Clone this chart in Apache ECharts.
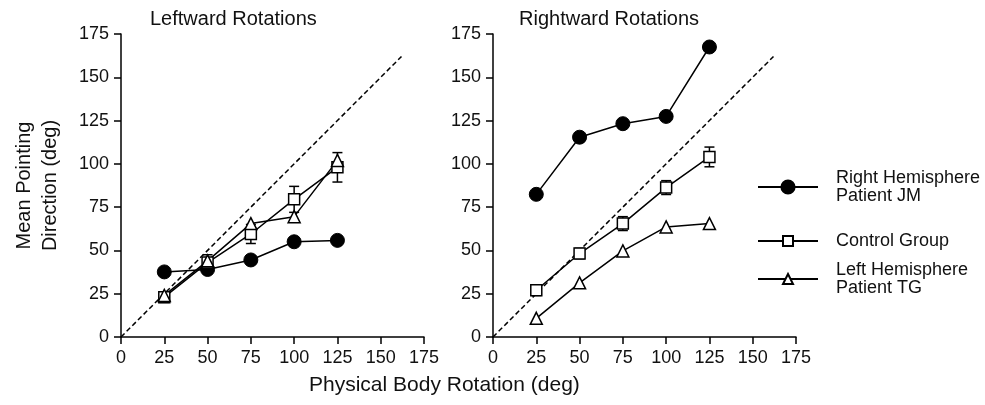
<!DOCTYPE html>
<html style="height: 100%">
<head>
    <meta charset="utf-8">
    <title>Leftward / Rightward Rotations</title>
    <script src="https://cdn.jsdelivr.net/npm/echarts@6/dist/echarts.min.js"></script>
</head>
<body style="height: 100%; margin: 0; background: #fff">
    <div id="main" style="width: 985px; height: 405px"></div>
    <script>
        // physical rotation (deg)
        var rotations = [25, 50, 75, 100, 125];

        // leftward rotations
        var leftJM = [37.6, 39, 44.5, 55, 55.8];
        var leftControl = [23, 43, 59.5, 79.5, 98];
        var leftControlErr = [3, 4.5, 5.5, 7.5, 8.5];
        var leftTG = [24, 44, 65.5, 69.5, 102];

        // rightward rotations
        var rightJM = [82.4, 115.4, 123.2, 127.4, 167.5];
        var rightControl = [27, 48.2, 65.5, 86.3, 104];
        var rightControlErr = [3, 3, 4, 4, 5.7];
        var rightTG = [10.8, 31.3, 49.7, 63.6, 65.5];

        // identity (dashed) line end points
        var identity = [0, 162];

        var FONT = 'Liberation Sans, Arial, sans-serif';

        function pairs(ys) {
            return rotations.map(function (x, i) { return [x, ys[i]]; });
        }
        function errData(ys, errs) {
            return rotations.map(function (x, i) { return [x, ys[i] - errs[i], ys[i] + errs[i]]; });
        }
        function renderErr(params, api) {
            var lo = api.coord([api.value(0), api.value(1)]);
            var hi = api.coord([api.value(0), api.value(2)]);
            var w = 5;
            var st = { stroke: '#000', lineWidth: 1.5 };
            return {
                type: 'group',
                children: [
                    { type: 'line', shape: { x1: lo[0], y1: lo[1], x2: hi[0], y2: hi[1] }, style: st },
                    { type: 'line', shape: { x1: lo[0] - w, y1: lo[1], x2: lo[0] + w, y2: lo[1] }, style: st },
                    { type: 'line', shape: { x1: hi[0] - w, y1: hi[1], x2: hi[0] + w, y2: hi[1] }, style: st }
                ]
            };
        }

        function axis(extra) {
            var a = {
                min: 0, max: 175, interval: 25,
                axisLine: { show: true, onZero: false, lineStyle: { color: '#000', width: 1.5 } },
                axisTick: { show: true, length: 7, lineStyle: { color: '#000', width: 1.5 } },
                axisLabel: { color: '#111', fontSize: 18, fontFamily: FONT, margin: 12 },
                splitLine: { show: false }
            };
            for (var k in extra) a[k] = extra[k];
            return a;
        }

        var lineStyle = { color: '#000', width: 1.5 };
        var symbolSpecs = {
            'Right Hemisphere\nPatient JM': { symbol: 'circle', symbolSize: 14, itemStyle: { color: '#000', borderColor: '#000', borderWidth: 1 } },
            'Control Group': { symbol: 'rect', symbolSize: 11, itemStyle: { color: '#fff', borderColor: '#000', borderWidth: 1.5 } },
            'Left Hemisphere\nPatient TG': { symbol: 'triangle', symbolSize: 12, itemStyle: { color: '#fff', borderColor: '#000', borderWidth: 1.5 } }
        };

        function lineSeries(name, data, idx) {
            var s = symbolSpecs[name];
            return {
                name: name, type: 'line', xAxisIndex: idx, yAxisIndex: idx,
                data: pairs(data), symbol: s.symbol, symbolSize: s.symbolSize,
                itemStyle: s.itemStyle, lineStyle: lineStyle, z: 5
            };
        }

        var names = Object.keys(symbolSpecs);

        // two-line labels get a top padding so the icon sits on the first line
        function legend(name, top, iconH, twoLines) {
            return {
                data: [name], left: 757, top: top, padding: 0,
                itemWidth: 60, itemHeight: iconH, selectedMode: false,
                textStyle: {
                    color: '#111', fontSize: 18, fontFamily: FONT, lineHeight: 18,
                    padding: twoLines ? [18, 0, 0, 13] : [0, 0, 0, 13]
                }
            };
        }

        var chart = echarts.init(document.getElementById('main'));
        chart.setOption({
            backgroundColor: '#fff',
            animation: false,
            title: [
                { text: 'Leftward Rotations', left: 150, top: 9, padding: 0, textStyle: { fontSize: 20, fontWeight: 'normal', color: '#111', fontFamily: FONT } },
                { text: 'Rightward Rotations', left: 519, top: 9, padding: 0, textStyle: { fontSize: 20, fontWeight: 'normal', color: '#111', fontFamily: FONT } },
                { text: 'Physical Body Rotation (deg)', left: 309, top: 375, padding: 0, textStyle: { fontSize: 21, fontWeight: 'normal', color: '#111', fontFamily: FONT } }
            ],
            legend: [
                legend(names[0], 160, 16.5, true),
                legend(names[1], 232, 12.5, false),
                legend(names[2], 252, 12.5, true)
            ],
            grid: [
                { left: 121, top: 34, width: 303, height: 303 },
                { left: 493, top: 34, width: 303, height: 303 }
            ],
            xAxis: [
                axis({ type: 'value', gridIndex: 0 }),
                axis({ type: 'value', gridIndex: 1 })
            ],
            yAxis: [
                axis({
                    type: 'value', gridIndex: 0,
                    name: 'Mean Pointing\nDirection (deg)', nameLocation: 'middle', nameGap: 58,
                    nameTextStyle: { fontSize: 20, color: '#111', fontFamily: FONT, lineHeight: 26 }
                }),
                axis({ type: 'value', gridIndex: 1 })
            ],
            series: [
                {
                    type: 'line', xAxisIndex: 0, yAxisIndex: 0, data: [[identity[0], identity[0]], [identity[1], identity[1]]],
                    symbol: 'none', lineStyle: { color: '#000', width: 1.5, type: [5, 3] }, z: 1, silent: true
                },
                {
                    type: 'line', xAxisIndex: 1, yAxisIndex: 1, data: [[identity[0], identity[0]], [identity[1], identity[1]]],
                    symbol: 'none', lineStyle: { color: '#000', width: 1.5, type: [5, 3] }, z: 1, silent: true
                },
                { type: 'custom', xAxisIndex: 0, yAxisIndex: 0, data: errData(leftControl, leftControlErr), renderItem: renderErr, z: 3, silent: true },
                { type: 'custom', xAxisIndex: 1, yAxisIndex: 1, data: errData(rightControl, rightControlErr), renderItem: renderErr, z: 3, silent: true },
                lineSeries(names[0], leftJM, 0),
                lineSeries(names[1], leftControl, 0),
                lineSeries(names[2], leftTG, 0),
                lineSeries(names[0], rightJM, 1),
                lineSeries(names[1], rightControl, 1),
                lineSeries(names[2], rightTG, 1)
            ]
        });
    </script>
</body>
</html>
